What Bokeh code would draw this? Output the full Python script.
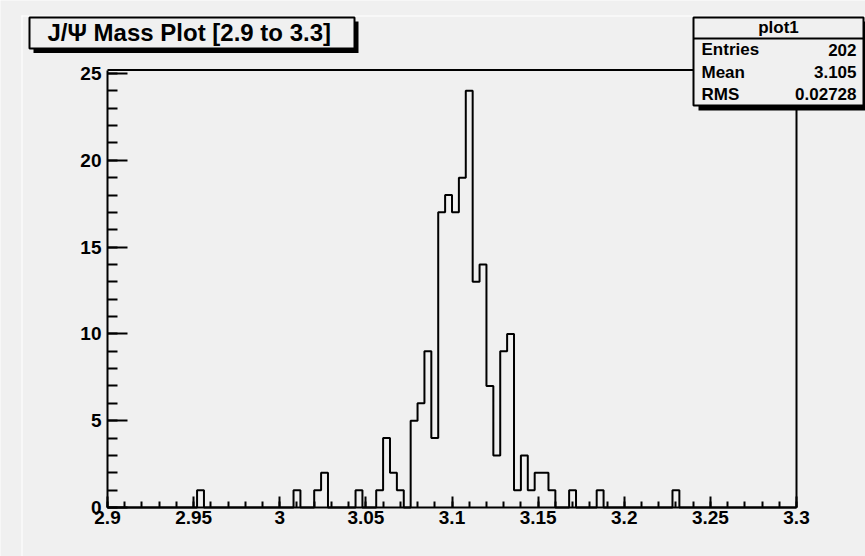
import numpy as np
from bokeh.plotting import figure
from bokeh.models import (FixedTicker, CustomJSTickFormatter, BoxAnnotation, Label, Range1d)
from bokeh.embed import file_html
from bokeh.resources import INLINE

# ---------------- data ----------------
title_text = "J/\u03a8 Mass Plot [2.9 to 3.3]"
stats_name = "plot1"
stats_labels = ["Entries", "Mean", "RMS"]
stats_values = ["202", "3.105", "0.02728"]

x_min, x_max = 2.9, 3.3
n_bins = 100
y_max = 25.2
x_tick_values = [2.9, 2.95, 3.0, 3.05, 3.1, 3.15, 3.2, 3.25, 3.3]
y_tick_values = [0, 5, 10, 15, 20, 25]

counts = [
    0, 0, 0, 0, 0, 0, 0, 0, 0, 0,
    0, 0, 0, 1, 0, 0, 0, 0, 0, 0,
    0, 0, 0, 0, 0, 0, 0, 1, 0, 0,
    1, 2, 0, 0, 0, 0, 1, 0, 0, 1,
    4, 2, 1, 0, 5, 6, 9, 4, 17, 18,
    17, 19, 24, 13, 14, 7, 3, 9, 10, 1,
    3, 1, 2, 2, 1, 0, 0, 1, 0, 0,
    0, 1, 0, 0, 0, 0, 0, 0, 0, 0,
    0, 0, 1, 0, 0, 0, 0, 0, 0, 0,
    0, 0, 0, 0, 0, 0, 0, 0, 0, 0,
]

# ---------------- layout constants (canvas pixels) ----------------
W, H = 865, 556
FL, FR, FT, FB = 107, 796, 69.5, 507      # histogram frame edges
BG = "#f0f0f0"
FONT = "Liberation Sans"

# the plotting frame covers the whole canvas; ranges chosen so that the
# histogram area maps onto FL..FR / FT..FB
px_x = (FR - FL) / (x_max - x_min)
px_y = (FB - FT) / y_max
xr = Range1d(x_min - FL / px_x, x_max + (W - FR) / px_x)
yr = Range1d(-(H - FB) / px_y, y_max + FT / px_y)

edges = x_min + (x_max - x_min) * np.arange(n_bins + 1) / n_bins
ys = list(counts) + [counts[-1]]

p = figure(width=W, height=H, output_backend="svg", toolbar_location=None,
           x_range=xr, y_range=yr,
           min_border_left=0, min_border_right=0,
           min_border_top=0, min_border_bottom=0)
p.background_fill_color = BG
p.border_fill_color = BG
p.outline_line_color = None
p.xgrid.visible = False
p.ygrid.visible = False

# top and right frame borders
p.line([x_min, x_max, x_max], [y_max, y_max, 0], line_color="black", line_width=2)

# histogram outline
p.step(edges, ys, mode="after", line_color="black", line_width=2)

x_minor = list(np.round(np.arange(x_min, x_max + 1e-9, 0.01), 3))
y_minor = list(range(0, 26))
p.xaxis.ticker = FixedTicker(ticks=x_tick_values, minor_ticks=x_minor)
p.yaxis.ticker = FixedTicker(ticks=y_tick_values, minor_ticks=y_minor)
p.xaxis.formatter = CustomJSTickFormatter(code="return String(Number(tick.toFixed(3)));")
p.xaxis.fixed_location = 0
p.yaxis.fixed_location = x_min
p.xaxis.bounds = (x_min, x_max)
p.yaxis.bounds = (0, y_max)
for ax, maj, mnr, stand in ((p.xaxis[0], 11, 6, 3), (p.yaxis[0], 20, 10, 6)):
    ax.axis_line_width = 2
    ax.axis_line_color = "black"
    ax.major_tick_in = maj
    ax.major_tick_out = 0
    ax.minor_tick_in = mnr
    ax.minor_tick_out = 0
    ax.major_tick_line_width = 2
    ax.minor_tick_line_width = 2
    ax.major_label_text_font = FONT
    ax.major_label_text_font_style = "bold"
    ax.major_label_text_font_size = "19px"
    ax.major_label_text_color = "black"
    ax.major_label_standoff = stand


def sx(cx):
    return cx


def sy(cy):
    return H - cy


def box(l, t, r, b, fill, line=None, lw=2):
    return BoxAnnotation(left=sx(l), right=sx(r), top=sy(t), bottom=sy(b),
                         left_units="screen", right_units="screen",
                         top_units="screen", bottom_units="screen",
                         fill_color=fill, fill_alpha=1.0,
                         line_color=line, line_width=lw, line_alpha=1.0 if line else 0.0,
                         level="overlay")


def label(x, y_base, text, size, align="left", style="bold"):
    # empirical shift so that the glyph baseline lands on y_base
    y = y_base - 0.33 * size
    return Label(x=sx(x), y=sy(y), x_units="screen", y_units="screen", text=text,
                 text_font=FONT, text_font_style=style, text_font_size=f"{size}px",
                 text_color="black", text_align=align, text_baseline="alphabetic",
                 level="overlay")


# pad bevel highlight
p.add_layout(box(21, 15, W + 5, 16, "white"))
p.add_layout(box(21, 15, 22, H + 5, "white"))

# title pave
p.add_layout(box(33, 21, 358, 52.5, "black"))
p.add_layout(box(29, 17, 354, 48, BG, "black", 2))
p.add_layout(label(47, 40, title_text, 24))

# stats pave
p.add_layout(box(698, 21, 870, 110, "black"))
p.add_layout(box(693, 17, 863, 105, BG, "black", 2))
p.add_layout(box(693, 37, 863, 39, "black"))
p.add_layout(label(778, 33, stats_name, 17, align="center"))
row_y = [55, 77.5, 99.5]
for lab, val, yy in zip(stats_labels, stats_values, row_y):
    p.add_layout(label(701, yy, lab, 17))
    p.add_layout(label(856, yy, val, 17, align="right"))

open("out.html", "w").write(file_html(p, INLINE))
